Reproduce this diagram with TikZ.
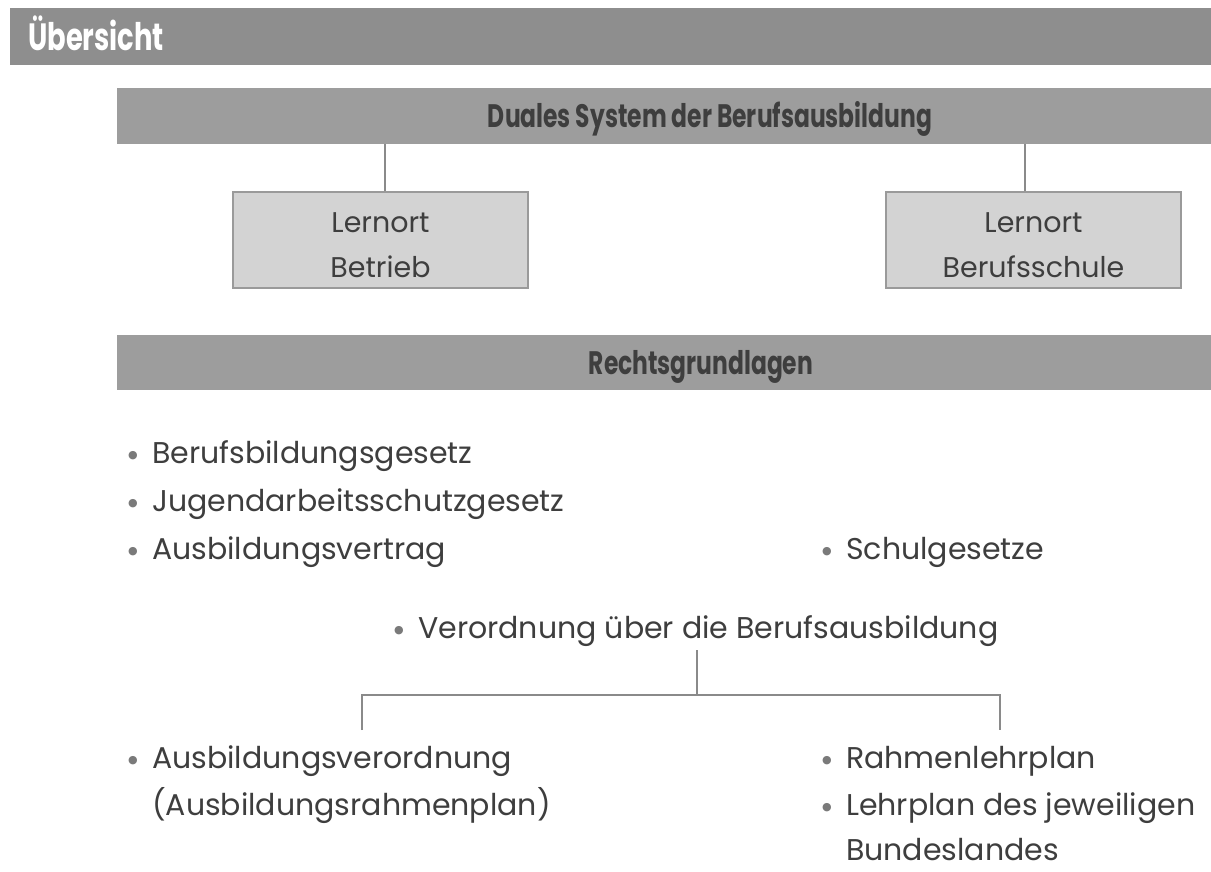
\documentclass[tikz,border=0pt]{standalone}
\usepackage{fontspec}
\setmainfont{Poppins}
\newfontfamily\hdfont[FakeStretch=0.72]{Poppins}
\newfontfamily\dejavu{DejaVu Sans}
\definecolor{bandA}{HTML}{8E8E8E}
\definecolor{bandB}{HTML}{9D9D9D}
\definecolor{boxfill}{HTML}{D3D3D3}
\definecolor{boxline}{HTML}{9A9A9A}
\definecolor{linecol}{HTML}{8A8A8A}
\definecolor{txt}{HTML}{3E3E3E}
\definecolor{bulcol}{HTML}{7A7A7A}
\newcommand\bul{\makebox[24pt][l]{\raisebox{5pt}{\textcolor{bulcol}{\dejavu\fontsize{11}{11}\selectfont ●}}}}
\newcommand\nobul{\hspace*{24pt}}
\tikzset{
  band/.style={fill=bandB, draw=none},
  hdtext/.style={font=\hdfont\bfseries\fontsize{32.5}{34}\selectfont, text=txt, inner sep=0pt},
  lernbox/.style={fill=boxfill, draw=boxline, line width=1.5pt, minimum width=295pt, minimum height=96pt, inner sep=0pt},
  lerntext/.style={anchor=base, inner sep=0pt, text=txt, font=\fontsize{28.5}{30}\selectfont},
  item/.style={anchor=base west, inner sep=0pt, text=txt, font=\fontsize{30}{32}\selectfont},
  conn/.style={draw=linecol, line width=1.5pt}
}
\begin{document}
\begin{tikzpicture}[x=1pt,y=-1pt]
\useasboundingbox (0,0) rectangle (1211,872);
\fill[white] (0,0) rectangle (1211,872);
% title band
\fill[bandA] (10,8) rectangle (1211,65);
\node[anchor=base west, inner sep=0pt, text=white, font=\hdfont\bfseries\fontsize{38}{40}\selectfont] (title) at (28,51) {Übersicht};
% Duales band
\node[band, minimum width=1094pt, minimum height=56pt, inner sep=0pt] (duales) at (664,116) {};
\node[hdtext, anchor=base] (dualest) at (710,128) {Duales System der Berufsausbildung};
% boxes
\node[lernbox] (betrieb) at (380.5,240) {};
\node[lerntext] (b1) at (380.5,233) {Lernort};
\node[lerntext] (b2) at (380.5,277) {Betrieb};
\node[lernbox] (schule) at (1033.5,240) {};
\node[lerntext] (s1) at (1033.5,233) {Lernort};
\node[lerntext] (s2) at (1033.5,277) {Berufsschule};
\draw[conn] (betrieb.north -| 385,0) -- (duales.south -| 385,0);
\draw[conn] (schule.north -| 1025,0) -- (duales.south -| 1025,0);
% Rechtsgrundlagen band
\node[band, minimum width=1094pt, minimum height=55pt, inner sep=0pt] (rechts) at (664,362.5) {};
\node[hdtext, anchor=base] (rechtst) at (701,374) {Rechtsgrundlagen};
% items
\node[item] (bbig) at (128,463) {\bul Berufsbildungsgesetz};
\node[item] (jarb) at (128,511) {\bul Jugendarbeitsschutzgesetz};
\node[item] (avert) at (128,559) {\bul Ausbildungsvertrag};
\node[item] (schulg) at (822,559) {\bul Schulgesetze};
\node[item] (verord) at (394,638) {\bul Verordnung über die Berufsausbildung};
\coordinate (vtop) at (697,650);
\coordinate (vmid) at (697,695);
\coordinate (lft) at (362,695);
\coordinate (rgt) at (1000,695);
\coordinate (lftb) at (362,730);
\coordinate (rgtb) at (1000,730);
\draw[conn] (vtop) -- (vmid);
\draw[conn] (lftb) -- (lft) -- (rgt) -- (rgtb);
\node[item] (ausbv) at (128,768) {\bul Ausbildungsverordnung};
\node[item] (ausbr) at (128,815) {\nobul(Ausbildungsrahmenplan)};
\node[item] (rahmen) at (822,768) {\bul Rahmenlehrplan};
\node[item] (lehrp) at (822,815) {\bul Lehrplan des jeweiligen};
\node[item] (bundl) at (822,860) {\nobul Bundeslandes};
\end{tikzpicture}
\end{document}
